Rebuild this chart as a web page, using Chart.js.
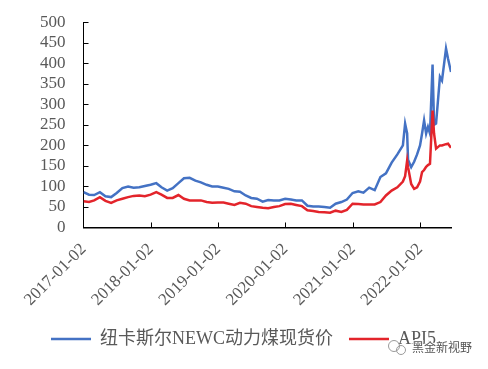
<!DOCTYPE html>
<html>
<head>
<meta charset="utf-8">
<script src="https://cdn.jsdelivr.net/npm/chart.js"></script>
<style>
  html, body { margin: 0; padding: 0; background: #fff; }
</style>
</head>
<body>
<canvas id="coalChart" width="488" height="369"></canvas>
<script>
// monthly readings, denser around the 2021-2022 spikes
const dates = [
  '2017-01-02', '2017-02-01', '2017-03-01', '2017-04-01', '2017-05-01', '2017-06-01',
  '2017-07-01', '2017-08-01', '2017-09-01', '2017-10-01', '2017-11-01', '2017-12-01',
  '2018-01-01', '2018-02-01', '2018-03-01', '2018-04-01', '2018-05-01', '2018-06-01',
  '2018-07-01', '2018-08-01', '2018-09-01', '2018-10-01', '2018-11-01', '2018-12-01',
  '2019-01-01', '2019-02-01', '2019-03-01', '2019-04-01', '2019-05-01', '2019-06-01',
  '2019-07-01', '2019-08-01', '2019-09-01', '2019-10-01', '2019-11-01', '2019-12-01',
  '2020-01-01', '2020-02-01', '2020-03-01', '2020-04-01', '2020-05-01', '2020-06-01',
  '2020-07-01', '2020-08-01', '2020-09-01', '2020-10-01', '2020-11-01', '2020-12-01',
  '2021-01-01', '2021-02-01', '2021-03-01', '2021-04-01', '2021-05-01', '2021-06-01',
  '2021-07-01', '2021-08-01', '2021-09-01', '2021-10-01', '2021-10-13', '2021-10-24',
  '2021-10-29', '2021-11-15', '2021-12-01', '2021-12-17', '2022-01-02', '2022-01-13',
  '2022-01-24', '2022-02-04', '2022-02-14', '2022-02-25', '2022-03-11', '2022-03-19',
  '2022-03-30', '2022-04-20', '2022-05-01', '2022-05-23', '2022-06-03', '2022-06-19'
];

const newcPrices = [
  86, 80, 79, 86, 76, 74, 84, 96, 100, 97, 98, 101,
  104, 108, 98, 90, 96, 108, 120, 121, 114, 110, 104, 100,
  100, 97, 94, 88, 87, 78, 72, 70, 63, 67, 66, 66,
  70, 68, 66, 66, 53, 51, 51, 50, 48, 58, 62, 68,
  84, 88, 85, 97, 91, 123, 132, 158, 178, 200, 253, 229,
  165, 147, 160, 178, 200, 229, 261, 229, 245, 229, 397, 250,
  253, 367, 358, 436, 411, 379
];

const api5Prices = [
  64, 62, 66, 74, 65, 60, 66, 70, 74, 77, 78, 76,
  80, 86, 80, 72, 72, 79, 70, 66, 66, 66, 62, 60,
  61, 61, 58, 55, 60, 58, 52, 50, 48, 47, 50, 52,
  57, 58, 55, 52, 42, 40, 38, 37, 36, 41, 38, 43,
  58, 57, 56, 56, 56, 62, 78, 90, 98, 112, 125, 163,
  147, 106, 94, 98, 112, 135, 140, 148, 152, 155, 285, 229,
  192, 200, 200, 203, 204, 194
];

const tickLabels = ['2017-01-02', '2018-01-02', '2019-01-02', '2020-01-02', '2021-01-02', '2022-01-02'];

const DAY = 86400000;
const base = Date.parse('2017-01-02');
const toDay = (s) => (Date.parse(s) - base) / DAY;

const tickDays = tickLabels.map(toDay);
const lastDay = toDay(dates[dates.length - 1]);

const serif = "'Liberation Serif', 'Times New Roman', serif";
const textColor = '#595959';

// excel style ticks pointing into the plot
const innerTicks = {
  id: 'innerTicks',
  afterDraw(chart) {
    const { ctx, chartArea, scales } = chart;
    ctx.save();
    ctx.strokeStyle = '#000';
    ctx.lineWidth = 1;
    for (let v = 50; v <= 500; v += 50) {
      const y = Math.round(scales.y.getPixelForValue(v)) + 0.5;
      ctx.beginPath();
      ctx.moveTo(chartArea.left, y);
      ctx.lineTo(chartArea.left + 5, y);
      ctx.stroke();
    }
    tickDays.forEach((d) => {
      if (d === 0) return;
      const x = Math.round(scales.x.getPixelForValue(d)) + 0.5;
      ctx.beginPath();
      ctx.moveTo(x, chartArea.bottom);
      ctx.lineTo(x, chartArea.bottom - 5);
      ctx.stroke();
    });
    ctx.restore();
  }
};

// legend box is centred on the plot area, nudge it to the page centre
const legendShift = {
  id: 'legendShift',
  beforeDraw(chart) {
    if (chart.legend) {
      chart.legend.left += 7;
      chart.legend.right += 7;
    }
  }
};

const watermark = {
  id: 'watermark',
  afterDraw(chart) {
    const ctx = chart.ctx;
    ctx.save();
    ctx.strokeStyle = '#9a9a9a';
    ctx.lineWidth = 1;
    ctx.beginPath();
    ctx.arc(394, 346, 5.5, 0, Math.PI * 2);
    ctx.stroke();
    ctx.beginPath();
    ctx.arc(401, 350, 4.5, 0, Math.PI * 2);
    ctx.stroke();
    ctx.font = "12px 'Noto Sans CJK SC'";
    ctx.textBaseline = 'middle';
    ctx.lineWidth = 2.5;
    ctx.strokeStyle = 'rgba(255,255,255,0.9)';
    ctx.strokeText('黑金新视野', 412, 347);
    ctx.fillStyle = '#555';
    ctx.fillText('黑金新视野', 412, 347);
    ctx.restore();
  }
};

new Chart(document.getElementById('coalChart'), {
  type: 'line',
  data: {
    datasets: [
      {
        label: '纽卡斯尔NEWC动力煤现货价',
        data: dates.map((d, i) => ({ x: toDay(d), y: newcPrices[i] })),
        borderColor: '#4472C4',
        backgroundColor: '#4472C4',
        borderWidth: 2.5,
        pointRadius: 0,
        pointStyle: 'line',
        tension: 0,
        order: 1,
      },
      {
        label: 'API5',
        data: dates.map((d, i) => ({ x: toDay(d), y: api5Prices[i] })),
        borderColor: '#E3242B',
        backgroundColor: '#E3242B',
        borderWidth: 2.5,
        pointRadius: 0,
        pointStyle: 'line',
        tension: 0,
        order: 0,
      },
    ],
  },
  options: {
    responsive: false,
    animation: false,
    layout: { padding: { left: 22, right: 37, top: 5, bottom: 11 } },
    plugins: {
      legend: {
        position: 'bottom',
        labels: {
          usePointStyle: true,
          pointStyleWidth: 40,
          padding: 16,
          color: textColor,
          font: { family: "'Liberation Serif', 'Noto Sans CJK SC'", size: 18 },
          sort: (a, b) => a.datasetIndex - b.datasetIndex,
        },
      },
      tooltip: { enabled: false },
    },
    scales: {
      x: {
        type: 'linear',
        min: 0,
        max: lastDay,
        afterBuildTicks: (scale) => {
          scale.ticks = tickDays.map((v) => ({ value: v }));
        },
        afterFit: (scale) => {
          scale.height -= 8;
        },
        ticks: {
          autoSkip: false,
          minRotation: 45,
          maxRotation: 45,
          padding: 12,
          color: textColor,
          font: { family: serif, size: 17 },
          callback: (v) => tickLabels[tickDays.indexOf(v)],
        },
        grid: { display: false, drawTicks: false },
        border: { color: '#000', width: 1.5 },
      },
      y: {
        min: 0,
        max: 500,
        ticks: {
          stepSize: 50,
          padding: 18,
          color: textColor,
          // small line height so the top label does not push the plot down
          font: { family: serif, size: 17, lineHeight: 0.5 },
        },
        grid: { display: false, drawTicks: false },
        border: { color: '#000', width: 1 },
      },
    },
  },
  plugins: [innerTicks, legendShift, watermark],
});
</script>
</body>
</html>
